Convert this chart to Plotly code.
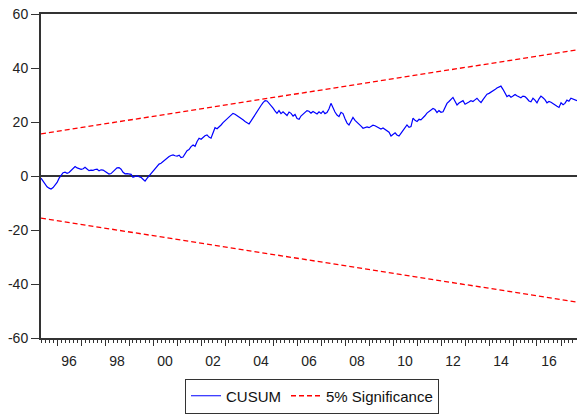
import pandas as pd
import plotly.graph_objects as go

# ---- data ----
start_month = "1995-05-01"
cusum = [
    -0.8, -2.0, -3.2, -4.0, -4.5, -4.8, -4.3, -3.5, -2.4, -0.8, 0.4, 1.2,
    1.4, 1.0, 1.3, 2.1, 2.8, 3.5, 3.0, 2.6, 2.5, 2.7, 3.2, 2.6,
    2.0, 2.2, 2.1, 2.4, 2.5, 1.9, 2.3, 2.2, 1.6, 1.0, 0.7, 0.9,
    1.6, 2.4, 3.0, 3.1, 2.5, 1.4, 0.8, 0.9, 0.7, 0.6, -0.5, -0.2,
    0.1, -0.3, -0.5, -1.2, -1.9, -0.9, 0.0, 1.0, 2.0, 2.6, 3.5, 4.4,
    4.7, 5.3, 6.1, 6.8, 7.2, 7.6, 7.8, 7.5, 7.4, 7.7, 6.8, 7.0,
    8.2, 9.4, 9.8, 10.9, 11.5, 11.0, 12.8, 14.0, 13.6, 14.3, 14.9, 15.2,
    14.4, 14.0, 16.2, 17.9, 17.5, 18.1, 18.9, 19.8, 20.5, 21.4, 21.9, 22.4,
    23.2, 22.9, 22.3, 21.7, 21.4, 20.8, 20.2, 19.6, 19.3, 20.4, 21.6, 22.7,
    23.8, 25.0, 26.1, 27.2, 27.9, 27.8, 27.0, 26.0, 25.1, 24.0, 23.2, 24.2,
    23.1, 23.8, 23.2, 22.4, 23.7, 23.2, 22.2, 22.8, 21.3, 21.0, 22.2, 23.0,
    23.4, 24.2, 24.0, 23.3, 23.9, 23.5, 23.0, 23.8, 23.2, 24.0, 23.1, 23.5,
    24.8, 26.9, 25.0, 23.7, 22.6, 22.0, 23.6, 23.1, 21.2, 19.6, 18.9, 20.4,
    21.7, 20.6, 20.0, 19.1, 18.5, 17.7, 18.0, 18.2, 17.9, 18.3, 18.8, 18.6,
    18.2, 17.7, 17.4, 17.8, 17.3, 17.0, 16.2, 14.8, 15.3, 16.0, 15.2, 14.8,
    15.8, 16.8, 17.9, 18.9, 18.0, 18.3, 21.4, 20.6, 20.2, 21.0, 20.8, 21.4,
    22.3, 23.3, 23.8, 24.4, 25.0, 24.6, 23.5, 24.2, 23.6, 23.8, 25.2, 26.9,
    27.6, 28.5, 29.1, 27.7, 26.3, 27.0, 27.5, 27.9, 26.6, 26.9, 27.4, 27.9,
    27.6, 28.2, 28.8, 27.9, 27.2, 28.3, 29.5, 30.3, 30.6, 31.0, 31.4, 32.0,
    32.6, 33.0, 33.3, 32.1, 30.6, 29.4, 29.9, 29.2, 29.6, 30.2, 29.7, 29.4,
    29.0, 29.6, 29.4, 28.7, 27.8, 27.5, 28.8, 28.1, 27.1, 28.6, 29.6, 29.0,
    28.3, 27.1, 27.6, 27.3, 26.9, 26.5, 25.8, 25.4, 27.1, 26.4, 26.9, 28.1,
    27.7, 28.8, 28.5, 28.2, 27.9,
]
sig_start = 15.6   # bound value at first observation
sig_end = 46.7     # bound value at last observation
y_tick_vals = [-60, -40, -20, 0, 20, 40, 60]
y_tick_text = ["-60", "-40", "-20", "0", "20", "40", "60"]
x_label_years = [1996, 1998, 2000, 2002, 2004, 2006, 2008, 2010, 2012, 2014, 2016]
x_label_text = ["96", "98", "00", "02", "04", "06", "08", "10", "12", "14", "16"]

dates = pd.date_range(start_month, periods=len(cusum), freq="MS")
ends = [dates[0], dates[-1]]

FONT = "Arial, Liberation Sans, sans-serif"
AX = "#333333"

fig = go.Figure()
fig.add_trace(go.Scatter(x=dates, y=cusum, mode="lines", name="CUSUM",
                         line=dict(color="#0000FF", width=1.2)))
fig.add_trace(go.Scatter(x=ends, y=[sig_start, sig_end], mode="lines",
                         name="5% Significance",
                         line=dict(color="#FF0000", width=1.3, dash="5px,3px")))
fig.add_trace(go.Scatter(x=ends, y=[-sig_start, -sig_end], mode="lines",
                         showlegend=False,
                         line=dict(color="#FF0000", width=1.3, dash="5px,3px")))
# invisible trace to activate label axis
fig.add_trace(go.Scatter(x=ends, y=[0, 0], mode="lines", xaxis="x2",
                         showlegend=False, hoverinfo="skip",
                         line=dict(color="rgba(0,0,0,0)", width=0)))

xrange = [dates[0], dates[-1]]
fig.update_layout(
    width=577, height=415,
    margin=dict(l=41, r=0, t=14, b=77, autoexpand=False),
    paper_bgcolor="white", plot_bgcolor="white",
    font=dict(family=FONT, size=14, color="#222222"),
    xaxis=dict(type="date", range=xrange, showgrid=False, zeroline=False,
               automargin=False,
               showline=True, linecolor=AX, linewidth=2, mirror=True,
               ticks="outside", ticklen=6, tickwidth=1, tickcolor=AX,
               tick0="1996-01-01", dtick="M12", showticklabels=False,
               minor=dict(ticks="outside", ticklen=3, tickwidth=1,
                          tickcolor=AX, dtick="M2", tick0="1996-01-01",
                          showgrid=False)),
    xaxis2=dict(type="date", range=xrange, overlaying="x", anchor="y",
                side="bottom", showgrid=False, zeroline=False, showline=False,
                automargin=False,
                ticks="outside", ticklen=10, tickcolor="rgba(0,0,0,0)",
                tickmode="array",
                tickvals=[pd.Timestamp(f"{y}-07-01") for y in x_label_years],
                ticktext=x_label_text,
                tickfont=dict(family=FONT, size=14, color="#222222")),
    yaxis=dict(range=[-60, 60], tickmode="array", tickvals=y_tick_vals,
               ticktext=y_tick_text, automargin=False,
               showgrid=False, showline=True, linecolor=AX, linewidth=2,
               ticks="outside", ticklen=8, tickwidth=1, tickcolor=AX,
               zeroline=True, zerolinecolor=AX, zerolinewidth=1.5,
               tickfont=dict(family=FONT, size=14, color="#222222")),
    legend=dict(orientation="h", x=0.5056, xanchor="center", y=-0.125,
                yanchor="top", bgcolor="white", bordercolor=AX, borderwidth=1,
                font=dict(family=FONT, size=15, color="#111111")),
    showlegend=True,
)

fig.write_html("out.html")
